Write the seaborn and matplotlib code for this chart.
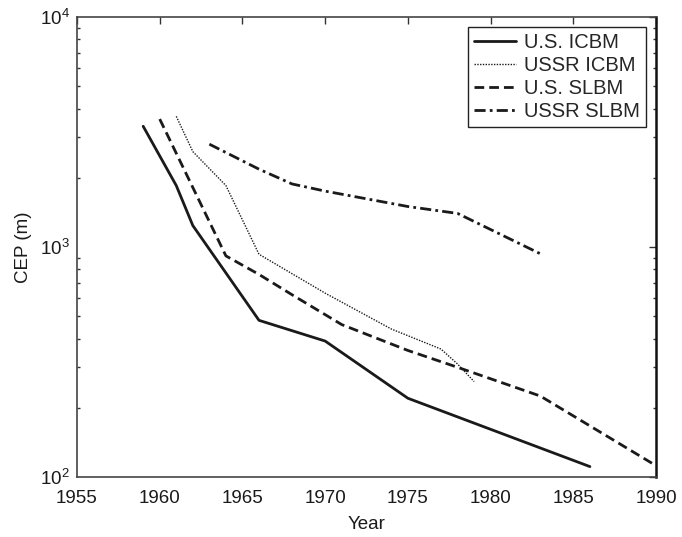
import numpy as np
import pandas as pd
import matplotlib
matplotlib.use("Agg")
import matplotlib.pyplot as plt
import seaborn as sns
from matplotlib.ticker import LogLocator, FixedLocator

# ---- data ----
us_icbm_years = [1959, 1961, 1962, 1966, 1970, 1975, 1986]
us_icbm_cep = [3350, 1850, 1240, 480, 390, 220, 111]

ussr_icbm_years = [1961, 1962, 1964, 1966, 1970, 1974, 1977, 1978, 1979]
ussr_icbm_cep = [3700, 2600, 1850, 930, 630, 440, 360, 310, 260]

us_slbm_years = [1960, 1964, 1966, 1968, 1971, 1975, 1978, 1983, 1990]
us_slbm_cep = [3600, 915, 760, 620, 460, 355, 300, 225, 112]

ussr_slbm_years = [1963, 1966, 1968, 1970, 1975, 1978, 1983]
ussr_slbm_cep = [2800, 2180, 1880, 1750, 1500, 1400, 935]

series_names = ["U.S. ICBM", "USSR ICBM", "U.S. SLBM", "USSR SLBM"]
x_ticks = [1955, 1960, 1965, 1970, 1975, 1980, 1985, 1990]

frames = []
for name, yrs, vals in zip(series_names,
                           [us_icbm_years, ussr_icbm_years, us_slbm_years, ussr_slbm_years],
                           [us_icbm_cep, ussr_icbm_cep, us_slbm_cep, ussr_slbm_cep]):
    frames.append(pd.DataFrame({"Year": yrs, "CEP": vals, "Series": name}))
df = pd.concat(frames, ignore_index=True)

sns.set_style("white")
plt.rcParams["font.family"] = ["Liberation Sans", "DejaVu Sans"]
plt.rcParams["mathtext.fontset"] = "custom"
plt.rcParams["mathtext.rm"] = "Liberation Sans"

fig = plt.figure(figsize=(6.82, 5.37), dpi=100)
ax = fig.add_axes([0.1129, 0.1117, 0.962 - 0.1129, 0.9683 - 0.1117])

dashes = {
    "U.S. ICBM": "",
    "USSR ICBM": (1, 1),
    "U.S. SLBM": (3.5, 1.8),
    "USSR SLBM": (4, 1.5, 1, 1.5),
}
widths = {"U.S. ICBM": 2.0, "USSR ICBM": 1.0, "U.S. SLBM": 2.0, "USSR SLBM": 2.0}

sns.lineplot(data=df, x="Year", y="CEP", hue="Series", style="Series",
             hue_order=series_names, style_order=series_names,
             palette={n: "#1a1a1a" for n in series_names},
             dashes=dashes, sort=False, estimator=None, ax=ax, legend=True)

for line, name in zip(ax.get_lines(), series_names):
    line.set_linewidth(widths[name])

ax.set_yscale("log")
ax.set_xlim(1955, 1990)
ax.set_ylim(100, 10000)
ax.xaxis.set_major_locator(FixedLocator(x_ticks))
ax.set_xticklabels([str(t) for t in x_ticks])
ax.yaxis.set_major_locator(LogLocator(base=10, numticks=10))
ax.yaxis.set_minor_locator(LogLocator(base=10, subs=np.arange(2, 10), numticks=20))

ax.tick_params(axis="both", which="major", direction="in", length=5, width=1,
               top=True, right=True, labelsize=13.5, colors="#333333", labelcolor="#1a1a1a")
ax.tick_params(axis="x", which="major", pad=9)
ax.tick_params(axis="y", which="major", pad=5)
ax.tick_params(axis="y", which="minor", direction="in", length=2.5, width=1,
               left=True, right=True, colors="#333333")
for s in ax.spines.values():
    s.set_visible(True)
    s.set_color("#444444")
    s.set_linewidth(1.2)
ax.spines["right"].set_color("#111111")
ax.spines["right"].set_linewidth(1.8)

ax.set_xlabel("Year", fontsize=13.5, color="#1a1a1a", labelpad=7)
ax.set_ylabel("CEP (m)", fontsize=13.5, color="#1a1a1a", labelpad=6)

handles, labels = ax.get_legend_handles_labels()
for h, name in zip(handles, labels):
    h.set_linewidth(widths.get(name, 2.0))
leg = ax.legend(handles, labels, loc="upper right", fontsize=14.5, frameon=True,
                fancybox=False, edgecolor="#222222", framealpha=1,
                handlelength=2.1, handletextpad=0.4, labelspacing=0.2,
                borderpad=0.3, borderaxespad=0.5)
leg.get_frame().set_linewidth(1.0)

fig.savefig("out.png", dpi=100)
